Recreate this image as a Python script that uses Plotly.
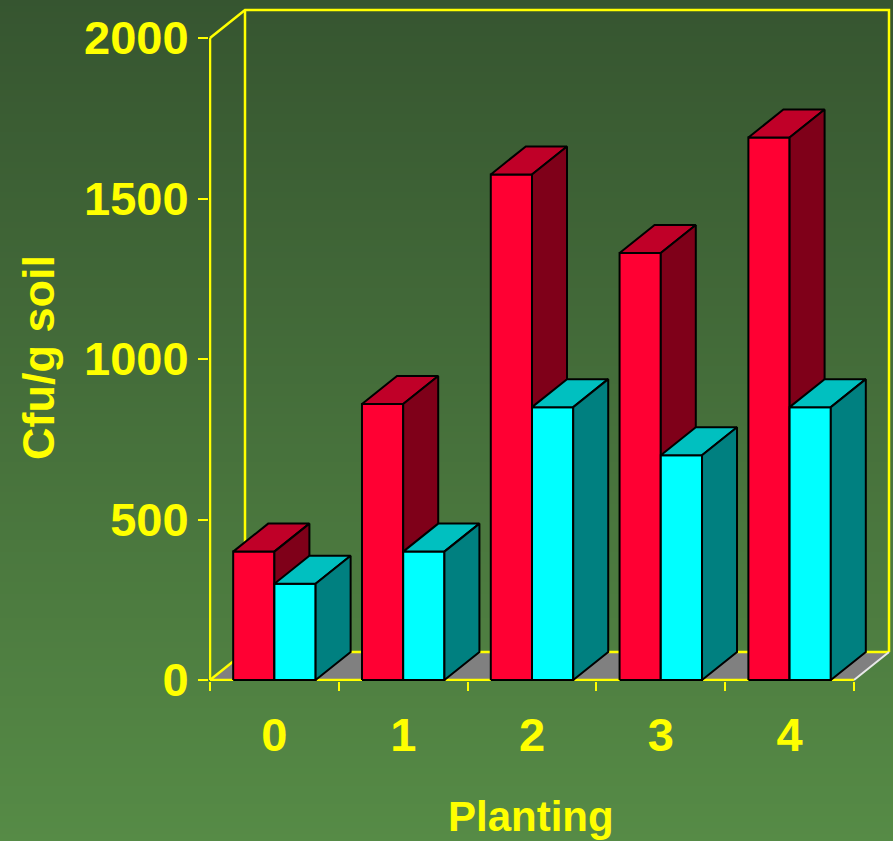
import plotly.graph_objects as go

# ---- data ----
categories = ["0", "1", "2", "3", "4"]
red_values = [400, 860, 1575, 1330, 1690]
cyan_values = [300, 400, 850, 700, 850]
y_tick_vals = [0, 500, 1000, 1500, 2000]
y_tick_text = ["0", "500", "1000", "1500", "2000"]
x_label = "Planting"
y_label = "Cfu/g soil"

# ---- geometry (layout constants) ----
W, H = 893, 841
PX_CAT = 128.8          # pixels per category
PX_UNIT = 642 / 2000    # pixels per value unit
L_PX, B_PX = 209, 681   # plot-area left / bottom in pixels
x_lo = -0.5 - 1 / PX_CAT
x_hi = x_lo + (W - L_PX) / PX_CAT
y_lo = -1 / PX_UNIT
y_hi = y_lo + B_PX / PX_UNIT
DX = 35 / PX_CAT        # 3-D depth offset, category units
DY = 28 / PX_UNIT       # 3-D depth offset, value units
BW = 0.32               # bar width
YMAX = 2000

YEL = "#FFFF00"
RED = ("#FF0033", "#C00028", "#7F0019")
CYA = ("#00FFFF", "#00C0C0", "#008080")

fig = go.Figure()


def poly(xs, ys, color, line_color="black", lw=2):
    fig.add_trace(go.Scatter(x=xs + [xs[0]], y=ys + [ys[0]], mode="lines",
                             fill="toself", fillcolor=color,
                             line=dict(color=line_color, width=lw),
                             hoverinfo="skip", showlegend=False))


def seg(xs, ys, color=YEL, lw=2.5):
    fig.add_trace(go.Scatter(x=xs, y=ys, mode="lines",
                             line=dict(color=color, width=lw),
                             hoverinfo="skip", showlegend=False))


n = len(categories)
# floor
fx0, fx1 = -0.5, n - 0.5
fig.add_trace(go.Scatter(x=[fx0, fx1, fx1 + DX, fx0 + DX, fx0],
                         y=[0, 0, DY, DY, 0], mode="lines", fill="toself",
                         fillcolor="#808080", line=dict(width=0),
                         hoverinfo="skip", showlegend=False))
# walls
seg([fx0 + DX, fx1 + DX], [DY, DY])
seg([fx0, fx0 + DX, fx1 + DX, fx1 + DX], [YMAX, YMAX + DY, YMAX + DY, DY])
seg([fx0 + DX, fx0 + DX], [YMAX + DY, DY])
seg([fx0, fx0 + DX], [0, DY])
seg([fx1, fx1 + DX], [0, DY], color="#E8E8E8", lw=2)
seg([fx0, fx1], [0, 0])
seg([fx0, fx0], [0, YMAX])


def bar3d(x0, h, cols):
    front, top, side = cols
    poly([x0, x0 + BW, x0 + BW, x0], [0, 0, h, h], front)
    poly([x0, x0 + BW, x0 + BW + DX, x0 + DX], [h, h, h + DY, h + DY], top)
    poly([x0 + BW, x0 + BW + DX, x0 + BW + DX, x0 + BW], [0, DY, h + DY, h], side)


for i in range(n):
    bar3d(i - BW, red_values[i], RED)
    bar3d(i, cyan_values[i], CYA)

# background gradient bands
top_c = (54, 85, 48)
bot_c = (86, 139, 70)
shapes = []
step = 6
for p in range(0, H, step):
    t = (p + step / 2) / H
    c = tuple(round(a + (b - a) * t) for a, b in zip(top_c, bot_c))
    shapes.append(dict(type="rect", xref="paper", yref="paper", layer="below",
                       x0=-L_PX / (W - L_PX) - 0.01, x1=1.01,
                       y0=(B_PX - p - step - 1) / B_PX, y1=(B_PX - p) / B_PX,
                       fillcolor="rgb(%d,%d,%d)" % c, line=dict(width=0)))

FAM = "Liberation Sans, Arial"
font_tick = dict(family=FAM, size=47, color=YEL, weight="bold")

fig.update_layout(
    width=W, height=H,
    margin=dict(l=L_PX, r=0, t=0, b=H - B_PX, autoexpand=False),
    paper_bgcolor="rgb(70,112,59)",
    plot_bgcolor="rgba(0,0,0,0)",
    shapes=shapes,
    showlegend=False,
    xaxis=dict(range=[x_lo, x_hi], showgrid=False, zeroline=False, showline=False,
               tickmode="array", tickvals=list(range(n)), ticktext=categories,
               ticks="", tickfont=font_tick, ticklabelstandoff=22,
               minor=dict(tickmode="array",
                          tickvals=[i - 0.5 for i in range(n + 1)],
                          ticks="outside", ticklen=9, tickwidth=2,
                          tickcolor=YEL, showgrid=False),
               fixedrange=True),
    yaxis=dict(range=[y_lo, y_hi], showgrid=False, zeroline=False, showline=False,
               tickmode="array", tickvals=y_tick_vals, ticktext=y_tick_text,
               ticks="outside", ticklen=10, tickwidth=2, tickcolor=YEL,
               tickfont=font_tick, ticklabelstandoff=0, fixedrange=True),
    annotations=[
        dict(text=x_label, xref="paper", yref="paper",
             x=(531 - L_PX) / (W - L_PX), y=(B_PX - 816) / B_PX,
             xanchor="center", yanchor="middle", showarrow=False,
             font=dict(family=FAM, size=42, color=YEL, weight="bold")),
        dict(text=y_label, xref="paper", yref="paper", textangle=-90,
             x=(38 - L_PX) / (W - L_PX), y=(B_PX - 358) / B_PX,
             xanchor="center", yanchor="middle", showarrow=False,
             font=dict(family=FAM, size=45, color=YEL, weight="bold")),
    ],
)

fig.write_html("out.html")
